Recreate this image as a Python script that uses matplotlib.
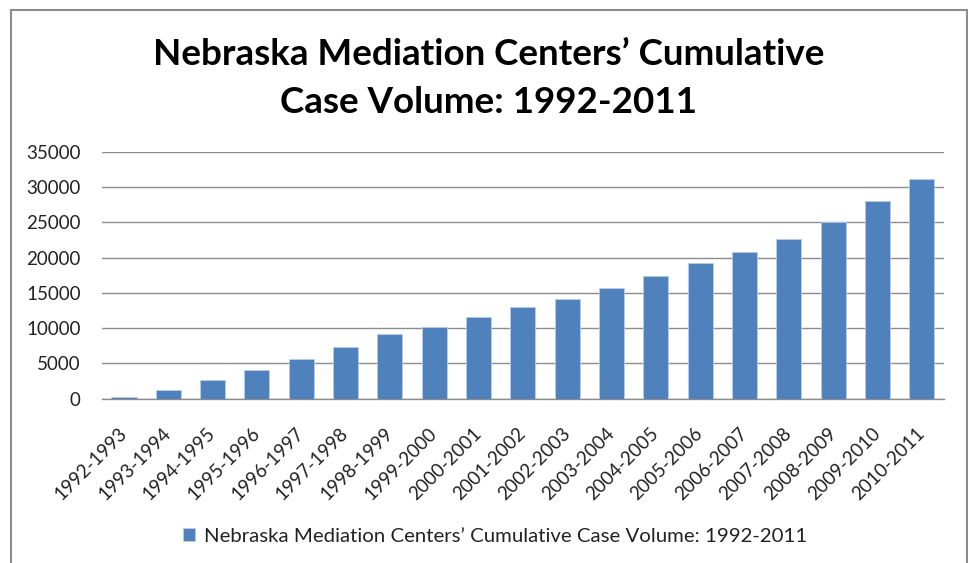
import matplotlib
matplotlib.use("Agg")
import matplotlib.pyplot as plt
from matplotlib.patches import Rectangle
import numpy as np

plt.rcParams['font.family'] = ['Lato', 'DejaVu Sans']

# data
seasons = ['1992-1993', '1993-1994', '1994-1995', '1995-1996', '1996-1997',
           '1997-1998', '1998-1999', '1999-2000', '2000-2001', '2001-2002',
           '2002-2003', '2003-2004', '2004-2005', '2005-2006', '2006-2007',
           '2007-2008', '2008-2009', '2009-2010', '2010-2011']
cases = [240, 1230, 2650, 4110, 5630, 7280, 9130, 10120, 11640, 13010,
         14190, 15750, 17410, 19200, 20860, 22660, 25120, 28000, 31120]
yticks = [0, 5000, 10000, 15000, 20000, 25000, 30000, 35000]
series_name = 'Nebraska Mediation Centers\u2019 Cumulative Case Volume: 1992-2011'
title_lines = ['Nebraska Mediation Centers\u2019 Cumulative', 'Case Volume: 1992-2011']

W, H = 968, 563
fig = plt.figure(figsize=(W / 100, H / 100), dpi=100)

# plot area in pixels (left, top, right, bottom)
left, top, right, bottom = 101.7, 152, 944, 398.7
ax = fig.add_axes([left / W, 1 - bottom / H, (right - left) / W, (bottom - top) / H])

x = np.arange(len(seasons))
ax.bar(x, cases, width=0.57, color='#4F81BD', edgecolor='#B9CDE5', linewidth=0.6,
       label=series_name, zorder=3)

ax.set_xlim(-0.5, len(seasons) - 0.5)
ax.set_ylim(0, 35000)
ax.set_yticks(yticks)
ax.set_yticklabels([str(v) for v in yticks], fontsize=13.5, color='#222222')
ax.set_xticks(x)
ax.set_xticklabels(seasons, rotation=45, ha='right', va='center',
                   rotation_mode='anchor', fontsize=13.5, color='#222222')
ax.tick_params(axis='both', length=0)
ax.tick_params(axis='y', pad=15)
ax.tick_params(axis='x', pad=23)

ax.grid(axis='y', color='#8C8C8C', linewidth=1.0, zorder=0)
for s in ['left', 'right', 'top']:
    ax.spines[s].set_visible(False)
ax.spines['bottom'].set_color('#8C8C8C')
ax.spines['bottom'].set_linewidth(1.0)

# title, two centred lines
fig.text(489 / W, 1 - 65 / H, title_lines[0], ha='center', va='baseline',
         fontsize=26.5, fontweight='bold')
fig.text(489 / W, 1 - 113 / H, title_lines[1], ha='center', va='baseline',
         fontsize=26.5, fontweight='bold')

# legend at bottom
leg = fig.legend(loc='center', bbox_to_anchor=(495 / W, 1 - 536 / H), frameon=False,
                 fontsize=14.7, handlelength=0.6, handleheight=0.6, handletextpad=0.4)
for t in leg.get_texts():
    t.set_color('#222222')

# chart border
fig.patches.append(Rectangle((11 / W, -0.02), (967 - 11) / W, 1 - 10 / H + 0.02,
                             transform=fig.transFigure, fill=False,
                             edgecolor='#8C8C8C', linewidth=1.5))

fig.savefig('out.png', dpi=100)
